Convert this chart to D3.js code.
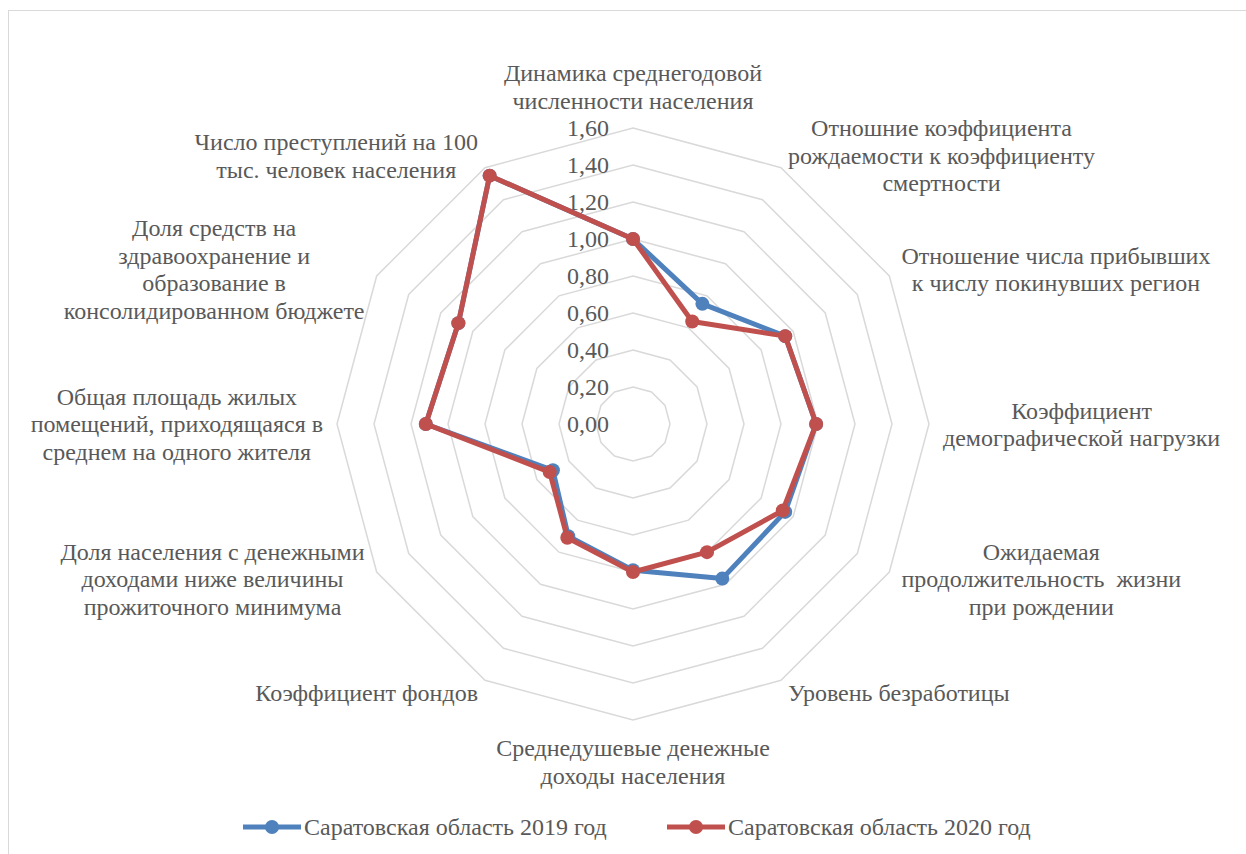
<!DOCTYPE html>
<html><head><meta charset="utf-8">
<script src="https://cdn.jsdelivr.net/npm/d3@7"></script>
<style>body{margin:0;background:#fff}svg{display:block}text{white-space:pre}</style>
</head><body>
<svg id="c" width="1246" height="854"></svg>
<script>
const categories = [
  "Динамика среднегодовой|численности населения",
  "Отношние коэффициента|рождаемости к коэффициенту|смертности",
  "Отношение числа прибывших|к числу покинувших регион",
  "Коэффициент|демографической нагрузки",
  "Ожидаемая|продолжительность  жизни|при рождении",
  "Уровень безработицы",
  "Среднедушевые денежные|доходы населения",
  "Коэффициент фондов",
  "Доля населения с денежными|доходами ниже величины|прожиточного минимума",
  "Общая площадь жилых|помещений, приходящаяся в|среднем на одного жителя",
  "Доля средств на|здравоохранение и|образование в|консолидированном бюджете",
  "Число преступлений на 100|тыс. человек населения"
];
const values2019 = [1.00, 0.75, 0.95, 0.99, 0.95, 0.965, 0.79, 0.70, 0.50, 1.12, 1.09, 1.55];
const values2020 = [1.00, 0.64, 0.95, 0.99, 0.935, 0.80, 0.80, 0.71, 0.52, 1.12, 1.09, 1.55];
const tickValues = [0, 0.2, 0.4, 0.6, 0.8, 1.0, 1.2, 1.4, 1.6];
const seriesNames = ["Саратовская область 2019 год", "Саратовская область 2020 год"];
const seriesColors = ["#4f81bd", "#c0504d"];

const svg = d3.select("#c");
const cx = 633, cy = 424, R = 296;
const FONT = "'Liberation Serif','Times New Roman',serif";
const FS = 24, LH = 27.5, TXT = "#595959";

svg.append("rect").attr("x", 8.5).attr("y", 10.5).attr("width", 1300).attr("height", 900)
  .attr("fill", "none").attr("stroke", "#d9d9d9").attr("stroke-width", 1);

const r = d3.scaleLinear().domain([0, 1.6]).range([0, R]);
const n = categories.length;
const ang = d3.scaleLinear().domain([0, n]).range([0, 2 * Math.PI]);
const pt = (i, v) => [cx + r(v) * Math.sin(ang(i)), cy - r(v) * Math.cos(ang(i))];

// grid rings
const g = svg.append("g");
tickValues.slice(1).forEach(t => {
  const pts = d3.range(n).map(i => pt(i, t));
  g.append("path").attr("d", d3.line()(pts) + "Z")
    .attr("fill", "none").attr("stroke", "#d9d9d9").attr("stroke-width", 1.5);
});

// tick labels
svg.append("g").selectAll("text").data(tickValues).join("text")
  .attr("x", cx - 24).attr("y", d => cy - r(d)).attr("dy", "0.35em")
  .attr("text-anchor", "end").attr("font-family", FONT).attr("font-size", FS).attr("fill", TXT)
  .text(d => d3.format(".2f")(d).replace(".", ","));

// axis labels
const lab = svg.append("g");
categories.forEach((c, i) => {
  const lines = c.split("|");
  const a = ang(i), s = Math.sin(a), co = Math.cos(a);
  const ax = cx + (R + 14) * s, ay = cy - (R + 14) * co;
  const t = lab.append("text").attr("font-family", FONT).attr("font-size", FS).attr("fill", TXT)
    .attr("text-anchor", "middle");
  const spans = lines.map(l => t.append("tspan").text(l));
  const w = d3.max(spans, sp => sp.node().getComputedTextLength());
  let bx;
  if (s > 0.01) bx = ax + w / 2; else if (s < -0.01) bx = ax - w / 2; else bx = ax;
  const h = lines.length * LH;
  let top;
  if (Math.abs(s) < 0.01) top = co > 0 ? ay - h : ay; else top = ay - h / 2;
  spans.forEach((sp, k) => sp.attr("x", bx).attr("y", top + LH * (k + 0.5)).attr("dy", "0.35em"));
});

// series
[values2019, values2020].forEach((vals, si) => {
  const pts = vals.map((v, i) => pt(i, v));
  const gs = svg.append("g");
  gs.append("path").attr("d", d3.line()(pts) + "Z").attr("fill", "none")
    .attr("stroke", seriesColors[si]).attr("stroke-width", 5).attr("stroke-linejoin", "round");
  gs.selectAll("circle").data(pts).join("circle").attr("cx", d => d[0]).attr("cy", d => d[1])
    .attr("r", 7).attr("fill", seriesColors[si]);
});

// legend
const legX = [243, 667], legY = 827;
seriesNames.forEach((nm, i) => {
  const lg = svg.append("g");
  lg.append("line").attr("x1", legX[i]).attr("x2", legX[i] + 58).attr("y1", legY).attr("y2", legY)
    .attr("stroke", seriesColors[i]).attr("stroke-width", 5);
  lg.append("circle").attr("cx", legX[i] + 29).attr("cy", legY).attr("r", 7).attr("fill", seriesColors[i]);
  lg.append("text").attr("x", legX[i] + 61).attr("y", legY).attr("dy", "0.35em")
    .attr("font-family", FONT).attr("font-size", FS).attr("fill", TXT).text(nm);
});
</script>
</body></html>
